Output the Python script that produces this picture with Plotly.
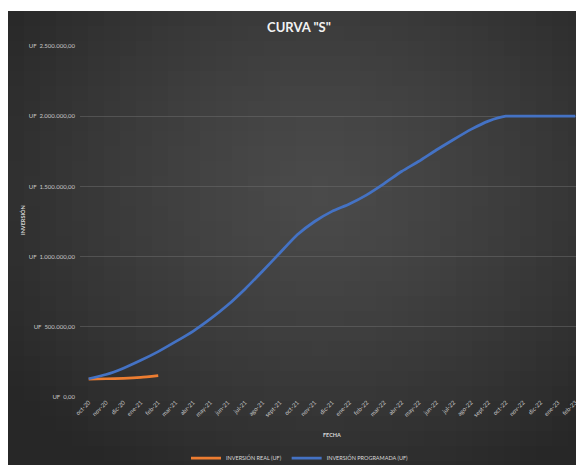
import plotly.graph_objects as go

# ---- data ----
meses = ["oct-20", "nov-20", "dic-20", "ene-21", "feb-21", "mar-21", "abr-21",
         "may-21", "jun-21", "jul-21", "ago-21", "sept-21", "oct-21", "nov-21",
         "dic-21", "ene-22", "feb-22", "mar-22", "abr-22", "may-22", "jun-22",
         "jul-22", "ago-22", "sept-22", "oct-22", "nov-22", "dic-22", "ene-23",
         "feb-23"]
programada = [130000, 160000, 205000, 261000, 323000, 394000, 468000, 556000,
              655000, 770000, 896000, 1026000, 1155000, 1250000, 1322000,
              1375000, 1440000, 1520000, 1606000, 1679000, 1759000, 1834000,
              1906000, 1965000, 2000000, 2000000, 2000000, 2000000, 2000000]
real_meses = ["oct-20", "nov-20", "dic-20", "ene-21", "feb-21"]
real = [128000, 130000, 133000, 140000, 153000]
y_ticks = [0, 500000, 1000000, 1500000, 2000000, 2500000]
y_ticktext = ["UF  0,00", "UF  500.000,00", "UF  1.000.000,00",
              "UF  1.500.000,00", "UF  2.000.000,00", "UF  2.500.000,00"]

# figure is placed by the page 8px from the top-left corner
W, H = 576, 457
L, R, T, B = 72, 0, 38, 68
PW, PH = W - L - R, H - T - B


def px2paper(px, py):
    return (px - L) / PW, (H - B - py) / PH


# background radial-ish gradient built from rectangles
shapes = []
cw, ch = 16, 15
x0p, y0p = 0, 3
cx, cy, rx, ry = 312, 182, 380, 330
py = y0p
while py < H:
    px = x0p
    while px < W:
        mx, my = px + cw / 2, py + ch / 2
        d = (((mx - cx) / rx) ** 2 + ((my - cy) / ry) ** 2) ** 0.5
        d = min(1.0, d) ** 1.3
        v = int(round(0x4a - (0x4a - 0x27) * d))
        ax0, ay1 = px2paper(px, py)
        ax1, ay0 = px2paper(min(px + cw, W) + 0.5, min(py + ch, H) + 0.5)
        shapes.append(dict(type="rect", xref="paper", yref="paper",
                           x0=ax0, x1=ax1, y0=ay0, y1=ay1,
                           fillcolor=f"rgb({v},{v},{v})",
                           line=dict(width=0), layer="below"))
        px += cw
    py += ch

FONT = "Lato, Open Sans, sans-serif"

fig = go.Figure()
fig.add_trace(go.Scatter(x=real_meses, y=real, mode="lines",
                         name="INVERSIÓN REAL (UF)",
                         line=dict(color="#ED7D31", width=2.75, shape="spline",
                                   smoothing=0.5)))
fig.add_trace(go.Scatter(x=meses, y=programada, mode="lines",
                         name="INVERSIÓN PROGRAMADA (UF)",
                         line=dict(color="#4472C4", width=2.75, shape="spline",
                                   smoothing=0.5)))

fig.update_layout(
    width=W, height=H,
    margin=dict(l=L, r=R, t=T, b=B, autoexpand=False),
    paper_bgcolor="white",
    plot_bgcolor="rgba(0,0,0,0)",
    shapes=shapes,
    title=dict(text='CURVA "S"', x=291 / W, xanchor="center",
               y=1 - 19 / H, yanchor="middle", yref="container",
               font=dict(family=FONT, size=13, color="#f2f2f2",
                         weight="bold")),
    xaxis=dict(type="category", categoryorder="array", categoryarray=meses,
               range=[-0.5, len(meses) - 0.5], tickangle=-45,
               tickfont=dict(family=FONT, size=6, color="#c8c8c8"),
               showgrid=False, showline=False, zeroline=False, ticks=""),
    yaxis=dict(range=[0, 2500000], tickvals=y_ticks, ticktext=y_ticktext,
               tickfont=dict(family=FONT, size=6, color="#c8c8c8"),
               showgrid=True, gridcolor="rgba(110,110,110,0.5)", gridwidth=1,
               zeroline=False, showline=False, ticks="", ticklabelstandoff=4),
    legend=dict(orientation="h", x=px2paper(292, 0)[0], xref="paper",
                xanchor="center",
                y=px2paper(0, 450)[1], yref="paper", yanchor="middle",
                font=dict(family=FONT, size=5.5, color="#d9d9d9"),
                bgcolor="rgba(0,0,0,0)", itemwidth=30),
    annotations=[
        dict(text="<b>INVERSIÓN</b>", textangle=-90, xref="paper", yref="paper",
             x=px2paper(14, 0)[0], y=px2paper(0, 212)[1], showarrow=False,
             xanchor="center", yanchor="middle",
             font=dict(family=FONT, size=5.5, color="#d9d9d9")),
        dict(text="<b>FECHA</b>", xref="paper", yref="paper",
             x=px2paper(324, 0)[0], y=px2paper(0, 427)[1], showarrow=False,
             xanchor="center", yanchor="middle",
             font=dict(family=FONT, size=5.5, color="#d9d9d9")),
    ],
)

fig.write_html("out.html")
